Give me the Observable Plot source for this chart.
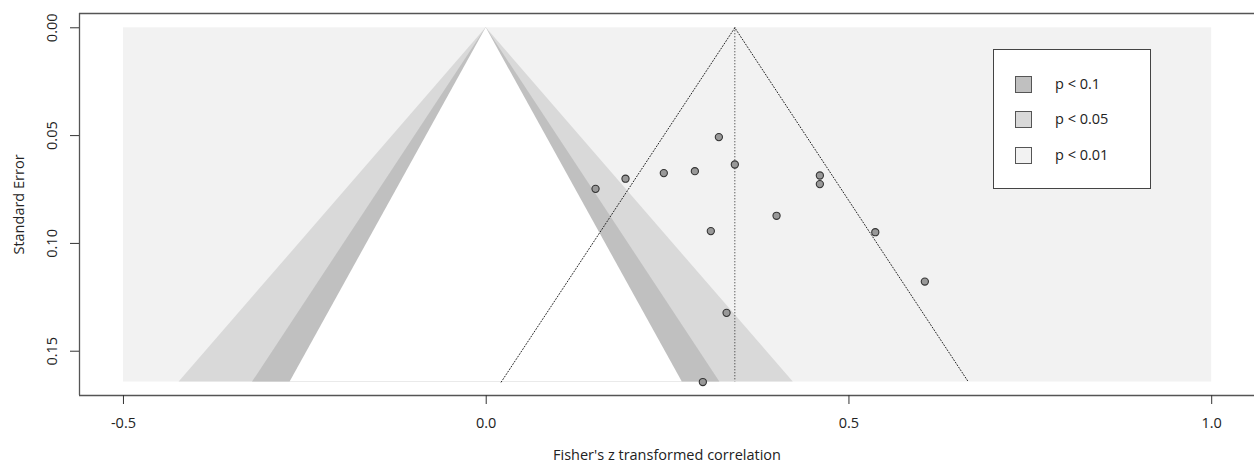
<!DOCTYPE html>
<html><head><meta charset="utf-8">
<script src="https://cdn.jsdelivr.net/npm/d3@7"></script>
<script src="https://cdn.jsdelivr.net/npm/@observablehq/plot@0.6"></script>
<style>
body{margin:0;background:#fff;font-family:"Open Sans",sans-serif;}
#wrap{position:relative;width:1254px;height:466px;}
#legend{position:absolute;left:993px;top:49px;width:158px;height:140px;border:1px solid #444;background:#fff;box-sizing:border-box;}
.row{position:absolute;left:0;height:18px;width:100%;}
.sw{position:absolute;left:21px;top:0;width:17px;height:17px;border:1px solid #555;box-sizing:border-box;}
.lb{position:absolute;left:61px;top:-1px;font-size:14.5px;color:#222;line-height:18px;}
</style></head><body><div id="wrap"></div>
<script>
// Data
const effects   = [0.3207, 0.3427, 0.1920, 0.1507, 0.2448, 0.2876, 0.4599, 0.4599, 0.4002, 0.3096, 0.5363, 0.3313, 0.2986, 0.6046];
const stdErrors = [0.0507, 0.0634, 0.0700, 0.0747, 0.0674, 0.0665, 0.0685, 0.0725, 0.0872, 0.0943, 0.0948, 0.1322, 0.1643, 0.1177];
const estimate = 0.3427;
const xTicks = [-0.5, 0.0, 0.5, 1.0];
const yTicks = [0.00, 0.05, 0.10, 0.15];
const xLimits = [-0.5, 1.0];
const xTitle = "Fisher's z transformed correlation";
const yTitle = "Standard Error";
const contourLabels = ["p < 0.1", "p < 0.05", "p < 0.01"];
const contourZ = [1.645, 1.96, 2.576];
const contourColors = ["#c0c0c0", "#d9d9d9", "#f2f2f2"];

const points = effects.map((e, i) => ({x: e, se: stdErrors[i]}));
const seMax = d3.max(stdErrors);
const tri = z => [{se: 0, lo: 0, hi: 0}, {se: seMax, lo: -z * seMax, hi: z * seMax}];
const funnel = [
  {x: estimate - 1.96 * seMax, se: seMax},
  {x: estimate, se: 0},
  {x: estimate + 1.96 * seMax, se: seMax}
];
const xDomain = [-0.5606, 1.0590];
const yDomain = [-0.00663, 0.17054];
const FS = 14.5;

const chart = Plot.plot({
  width: 1254, height: 466,
  marginLeft: 79, marginRight: 0, marginTop: 13, marginBottom: 71,
  style: {fontFamily: "'Open Sans', sans-serif", fontSize: FS + "px", color: "#222", background: "#fff"},
  x: {domain: xDomain, label: null},
  y: {domain: yDomain, reverse: true, label: null},
  marks: [
    Plot.rect([{x1: xLimits[0], x2: xLimits[1], y1: 0, y2: seMax}], {x1: "x1", x2: "x2", y1: "y1", y2: "y2", fill: contourColors[2]}),
    Plot.areaX(tri(contourZ[2]), {y: "se", x1: "lo", x2: "hi", fill: contourColors[1]}),
    Plot.areaX(tri(contourZ[1]), {y: "se", x1: "lo", x2: "hi", fill: contourColors[0]}),
    Plot.areaX(tri(contourZ[0]), {y: "se", x1: "lo", x2: "hi", fill: "#ffffff"}),
    Plot.line(funnel, {x: "x", y: "se", stroke: "#222", strokeWidth: 1, strokeDasharray: "1,2"}),
    Plot.ruleX([estimate], {y1: 0, y2: seMax, stroke: "#222", strokeWidth: 1, strokeDasharray: "1,2"}),
    Plot.dot(points, {x: "x", y: "se", r: 3.6, fill: "#999", stroke: "#333", strokeWidth: 1.1}),
    Plot.ruleY([yDomain[0], yDomain[1]], {stroke: "#555", strokeWidth: 1.3}),
    Plot.ruleX([xDomain[0]], {stroke: "#555", strokeWidth: 1.3}),
    Plot.axisX({ticks: xTicks, tickSize: 9, tickPadding: 13, tickFormat: d => d.toFixed(1), stroke: "#333", fontSize: FS, label: null}),
    Plot.axisY({ticks: yTicks, tickSize: 9, tickPadding: 14, tickRotate: -90, tickFormat: d => d.toFixed(2), stroke: "#333", fontSize: FS, label: null}),
    Plot.text([xTitle], {frameAnchor: "bottom", dy: 64, text: d => d, fill: "#222", fontSize: FS}),
    Plot.text([yTitle], {frameAnchor: "left", dx: -60, rotate: -90, textAnchor: "middle", lineAnchor: "middle", text: d => d, fill: "#222", fontSize: FS})
  ]
});
const wrap = document.getElementById("wrap");
wrap.appendChild(chart);

const legend = document.createElement("div");
legend.id = "legend";
const rowTops = [26, 61, 97];
contourLabels.forEach((lab, i) => {
  const row = document.createElement("div");
  row.className = "row";
  row.style.top = rowTops[i] + "px";
  const sw = document.createElement("div");
  sw.className = "sw";
  sw.style.background = contourColors[i];
  const lb = document.createElement("div");
  lb.className = "lb";
  lb.textContent = lab;
  row.appendChild(sw); row.appendChild(lb);
  legend.appendChild(row);
});
wrap.appendChild(legend);
</script></body></html>
